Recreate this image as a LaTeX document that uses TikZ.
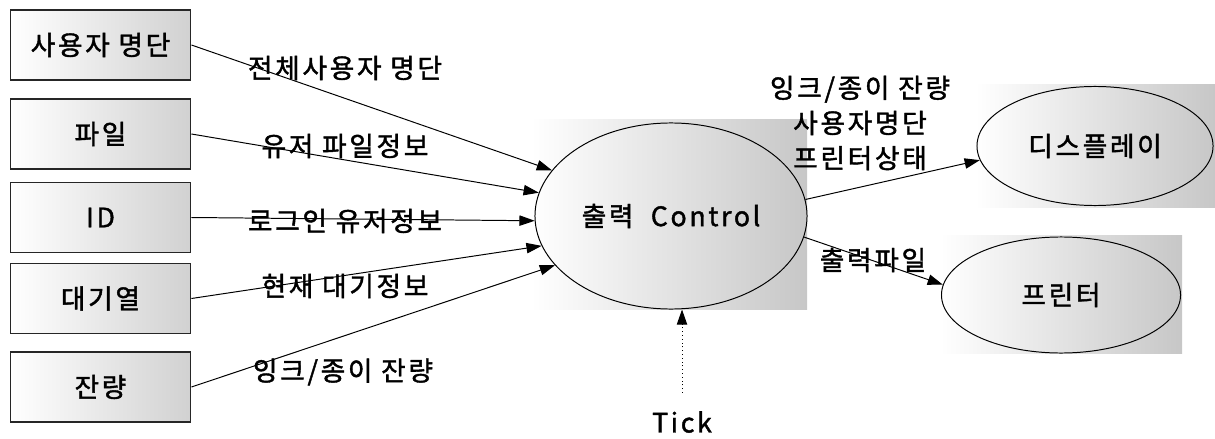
\documentclass[tikz,border=0pt]{standalone}
\usepackage{fontspec}
\setmainfont{Noto Sans CJK KR}[FakeBold=1.5,UprightFeatures={FakeBold=1.5},LetterSpace=10]
\usetikzlibrary{arrows.meta,shapes.geometric}

\begin{document}
\begin{tikzpicture}[x=0.025cm,y=-0.025cm,
        font=\fontsize{19}{25}\selectfont,
        srcbox/.style={draw=black!85,line width=1.3pt,left color=white,right color=black!18,
            minimum width=4.5cm,minimum height=1.75cm,inner sep=0pt},
        proc/.style={draw,ellipse,line width=0.7pt,inner sep=0pt},
        back/.style={left color=white,right color=black!22},
        flow/.style={line width=0.7pt,-{Triangle[length=0.38cm,width=0.26cm]}},
        lbl/.style={inner sep=0pt}]
    \useasboundingbox (0,0) rectangle (1215,439);

    % shaded backdrops of the processes
    \fill[back] (531,120) rectangle (807,309);
    \fill[back] (975,85) rectangle (1215,207);
    \fill[back] (940,235) rectangle (1182,353);

    \node[srcbox] (usr) at (100.5,45) {사용자 명단};
    \node[srcbox] (file) at (100.5,134) {파일};
    \node[srcbox] (id) at (100.5,217.5) {ID};
    \node[srcbox] (queue) at (100.5,298.5) {대기열};
    \node[srcbox] (rest) at (100.5,387) {잔량};

    \node[proc,minimum width=6.8cm,minimum height=4.65cm] (ctrl) at (671,216) {출력\ \ Control};
    \node[proc,minimum width=5.9cm,minimum height=2.975cm] (disp) at (1095,146) {디스플레이};
    \node[proc,minimum width=5.975cm,minimum height=2.9cm] (prn) at (1061,295) {프린터};

    \draw[flow] (usr.east) -- (ctrl.159);
    \draw[flow] (file.east) -- (ctrl.170);
    \draw[flow] (id.east) -- (ctrl.182);
    \draw[flow] (queue.east) -- (ctrl.193);
    \draw[flow] (rest.east) -- (ctrl.203);

    \node[lbl] (l1) at (345,68) {전체사용자 명단};
    \node[lbl] (l2) at (345,146) {유저 파일정보};
    \node[lbl] (l3) at (345,221) {로그인 유저정보};
    \node[lbl] (l4) at (345,286) {현재 대기정보};
    \node[lbl] (l5) at (343,372) {잉크/종이 잔량};

    \draw[flow] (ctrl.7) -- (disp.187);
    \draw[flow] (ctrl.351) -- (prn.175);
    \node[lbl,align=center] (out1) at (860,123) {잉크/종이 잔량\\사용자명단\\프린터상태};
    \node[lbl] (out2) at (873,260) {출력파일};

    \node[lbl] (tick) at (682,422) {Tick};
    \draw[flow,dotted,shorten <=0.45cm] (tick.north) -- (tick.north |- ctrl.south);
\end{tikzpicture}
\end{document}
